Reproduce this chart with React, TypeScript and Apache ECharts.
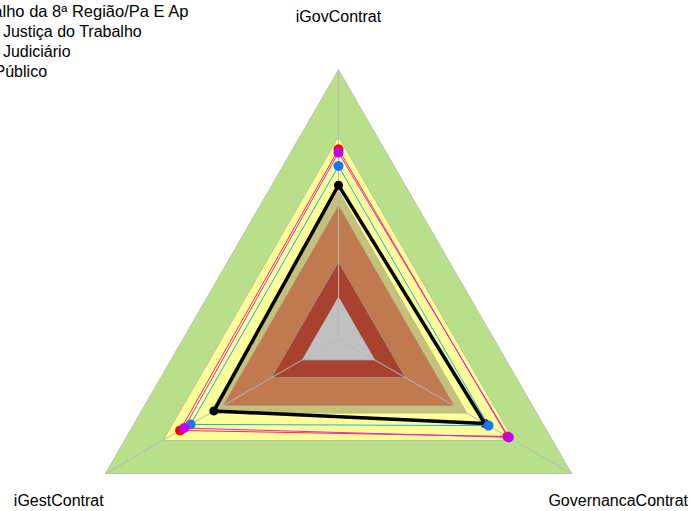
import React, { useEffect, useRef } from "react";
import * as echarts from "echarts";

// Indicators in ECharts radar order (top, bottom-left, bottom-right)
const indicatorNames = ["iGovContrat", "iGestContrat", "GovernancaContrat"];

// Background bands (same value on every axis), outermost first
const bandLevels = [1.0, 0.75, 0.55, 0.495, 0.285, 0.155];
const bandColors = ["#B9DF8B", "#FFFF99", "#C4C27A", "#C1794F", "#A8422E", "#C0C0C0"];

// Series
const seriesNames = [
  "Tribunal Regional do Trabalho da 8ª Região/Pa E Ap",
  "Média da Justiça do Trabalho",
  "Média do Judiciário",
  "Média do Setor Público",
];
const trtValues = [0.572, 0.535, 0.628];
const justicaTrabalhoValues = [0.643, 0.635, 0.644];
const judiciarioValues = [0.705, 0.68, 0.725];
const publicoValues = [0.693, 0.662, 0.731];

const lineColors = ["#000000", "#10B0EC", "#FF2848", "#E020E8"];
const pointColors = ["#000000", "#1476F2", "#FF0000", "#C400F2"];

export default function App() {
  const ref = useRef<HTMLDivElement>(null);

  useEffect(() => {
    if (!ref.current) return;
    const chart = echarts.init(ref.current, null, { renderer: "svg" });
    const cx = 338.5;
    const cy = 339;
    const R = 269;
    const nameGap = 54;
    const font = '"Liberation Sans", Arial, sans-serif';

    const indicator = indicatorNames.map((n) => ({ name: n, min: 0, max: 1 }));
    const baseRadar = {
      indicator,
      center: [cx, cy],
      radius: R,
      startAngle: 90,
      shape: "polygon" as const,
      splitNumber: 1,
      axisName: { show: false },
      axisTick: { show: false },
      axisLabel: { show: false },
      splitLine: { show: false },
      splitArea: { show: false },
    };

    const labelGraphics = indicatorNames.map((n, i) => {
      const ang = ((90 + i * 120) * Math.PI) / 180;
      return {
        type: "text",
        x: cx + (R + nameGap) * Math.cos(ang),
        y: cy - (R + nameGap) * Math.sin(ang),
        silent: true,
        style: {
          text: n,
          fill: "#000",
          fontSize: 16,
          fontFamily: font,
          align: "center",
          verticalAlign: "middle",
        },
      };
    });

    const allValues = [trtValues, justicaTrabalhoValues, judiciarioValues, publicoValues];
    const legendPads = [0, 128.6, 128.6, 77.5];
    const legendSizes = [16.5, 16, 16, 16];

    chart.setOption({
      animation: false,
      backgroundColor: "#ffffff",
      textStyle: { fontFamily: font },
      legend: {
        orient: "vertical",
        left: -225.9,
        top: 2,
        padding: 0,
        itemWidth: 25,
        itemHeight: 14,
        itemGap: 4.3,
        selectedMode: false,
        textStyle: { fontSize: 16, color: "#000", fontFamily: font, lineHeight: 16 },
        data: seriesNames.map((n, i) => ({
          name: n,
          textStyle: { padding: [0, 0, 0, legendPads[i]], fontSize: legendSizes[i], lineHeight: 16 },
        })),
      },
      radar: [
        { ...baseRadar, axisLine: { show: false }, z: 0 },
        { ...baseRadar, axisLine: { show: true, lineStyle: { color: "#B8B8B8", width: 1 } }, z: 3 },
      ],
      graphic: labelGraphics,
      series: [
        {
          type: "radar",
          radarIndex: 0,
          z: 2,
          silent: true,
          symbol: "none",
          data: bandLevels.map((v, i) => ({
            value: [v, v, v],
            areaStyle: { color: bandColors[i], opacity: 1 },
            lineStyle: { color: "#A8A8A8", width: 1 },
            itemStyle: { color: bandColors[i] },
          })),
        },
        ...allValues.map((vals, i) => ({
          type: "radar",
          radarIndex: 1,
          name: seriesNames[i],
          z: 4 + i,
          symbol: "circle",
          symbolSize: i === 0 ? 9 : 10,
          itemStyle: { color: pointColors[i] },
          lineStyle: { color: lineColors[i], width: i === 0 ? 3.5 : 1 },
          data: [{ value: vals, name: seriesNames[i] }],
        })),
      ],
    });
    return () => chart.dispose();
  }, []);

  return (
    <div
      ref={ref}
      style={{ position: "fixed", left: 0, top: 0, width: 691, height: 511 }}
    />
  );
}
